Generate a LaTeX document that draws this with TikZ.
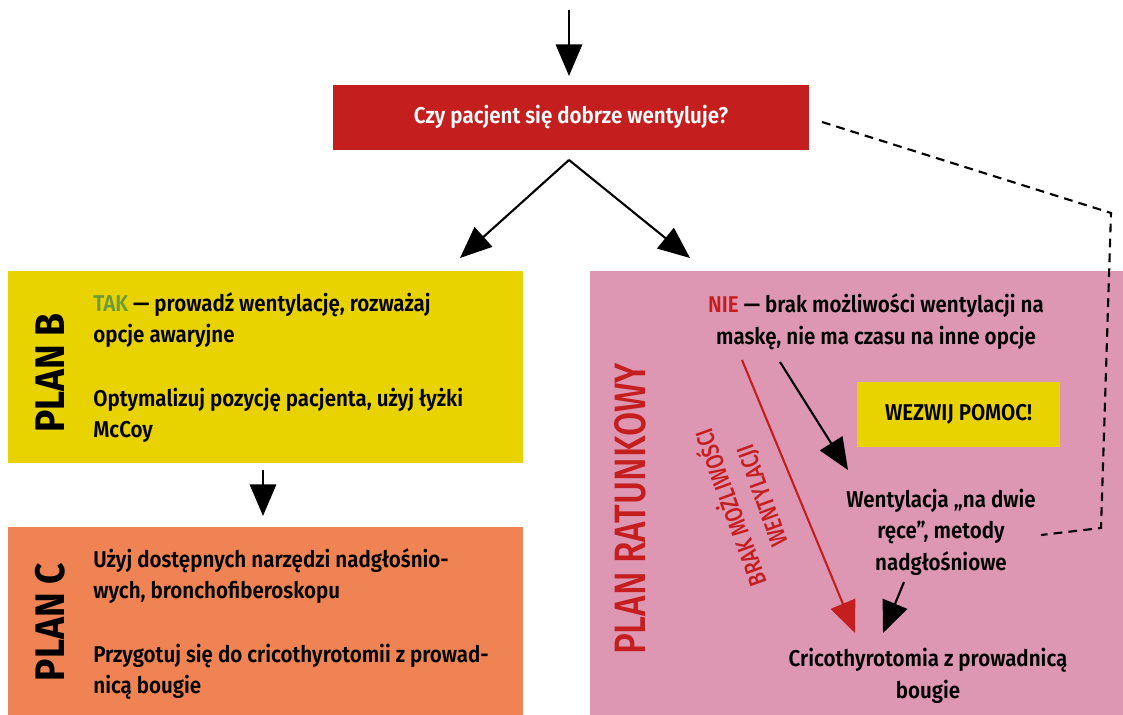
\documentclass[tikz,border=0pt]{standalone}
\usepackage{fontspec}
\setmainfont{Fira Sans}[FakeStretch=0.9, UprightFont=* SemiBold, BoldFont=* Bold]
\newfontfamily\lightsans{Fira Sans}[FakeStretch=0.8, UprightFont=* Medium]
\usetikzlibrary{arrows.meta}
\definecolor{alarmred}{HTML}{C41E1E}
\definecolor{planyellow}{HTML}{E8D300}
\definecolor{planorange}{HTML}{F08353}
\definecolor{planpink}{HTML}{DE97B2}
\definecolor{takgreen}{HTML}{6A9A3A}

\begin{document}
\begin{tikzpicture}
      [x=0.02cm, y=-0.02cm,
       panel/.style={
           rectangle,
           inner sep=0pt,
           draw=none
         },
       body/.style={
           inner sep=0pt,
           align=left,
           font=\fontsize{13}{18}\selectfont
         },
       plantitle/.style={
           rotate=90,
           inner sep=0pt,
           font=\bfseries\fontsize{23.5}{26}\selectfont
         },
       arr/.style={
           draw=black, line width=1.2pt,
           -{Triangle[length=18pt,width=15pt]}
         },
       ]
    \useasboundingbox (0,0) rectangle (1123,715);

    % panels
    \node [panel, fill=alarmred, minimum width=9.52cm, minimum height=1.3cm,
           text=white, font=\fontsize{13}{18}\selectfont] (q) at (571,117.5)
          {Czy pacjent się dobrze wentyluje?};
    \node [panel, fill=planyellow, minimum width=10.3cm, minimum height=3.84cm] (planB) at (265.5,367) {};
    \node [panel, fill=planorange, minimum width=10.3cm, minimum height=3.76cm] (planC) at (265.5,621) {};
    \node [panel, fill=planpink, minimum width=10.66cm, minimum height=8.88cm] (rescue) at (856.5,493) {};
    \node [panel, fill=planyellow, minimum width=4.06cm, minimum height=1.3cm,
           font=\fontsize{13}{18}\selectfont] (help) at (958.5,414.5) {WEZWIJ POMOC!};

    % plan B / C
    \node [plantitle] (titleB) at (50,373) {PLAN B};
    \node [body, anchor=north west] (tak) at (93,292) {
      \textcolor{takgreen}{TAK} — prowadź wentylację, rozważaj\\
      opcje awaryjne\\[18pt]
      Optymalizuj pozycję pacjenta, użyj łyżki\\
      McCoy
    };
    \node [plantitle] (titleC) at (50,622) {PLAN C};
    \node [body, anchor=north west] (tools) at (93,548) {
      Użyj dostępnych narzędzi nadgłośnio-\\
      wych, bronchofiberoskopu\\[18pt]
      Przygotuj się do cricothyrotomii z prowad-\\
      nicą bougie
    };

    % plan ratunkowy
    \node [rotate=90, inner sep=0pt, text=alarmred,
           font=\lightsans\fontsize{25}{28}\selectfont] (titleR) at (630,509) {PLAN RATUNKOWY};
    \node [body, align=center] (nie) at (876,322) {
      \textcolor{alarmred}{NIE} — brak możliwości wentylacji na\\
      maskę, nie ma czasu na inne opcje
    };
    \node [body, align=center] (vent) at (941,532) {
      Wentylacja „na dwie\\
      ręce”, metody\\
      nadgłośniowe
    };
    \node [body, align=center] (crico) at (928,676) {
      Cricothyrotomia z prowadnicą\\
      bougie
    };
    \node [rotate=110, inner sep=0pt, align=center, text=alarmred,
           font=\lightsans\fontsize{14}{19}\selectfont] (noVent) at (746,502) {
      BRAK MOŻLIWOŚCI\\
      WENTYLACJI
    };

    % connectors
    \coordinate (entry) at (569,10);
    \coordinate (entryEnd) at (569,76);
    \coordinate (fork) at (569,160);
    \coordinate (toB) at (460,258);
    \coordinate (toR) at (690,258);
    \coordinate (BtoC) at (263,470);
    \coordinate (BtoCEnd) at (263,516);
    \coordinate (nieOut) at (780,362);
    \coordinate (ventIn) at (848,470);
    \coordinate (redOut) at (742,360);
    \coordinate (redIn) at (855,633);
    \coordinate (ventOut) at (904,582);
    \coordinate (cricoIn) at (883,633);
    \coordinate (d1) at (822,122);
    \coordinate (d2) at (1111,213);
    \coordinate (d3) at (1101,528);
    \coordinate (d4) at (1041,535);

    \draw [arr] (entry) -- (entryEnd);
    \draw [arr] (fork) -- (toB);
    \draw [arr] (fork) -- (toR);
    \draw [arr] (BtoC) -- (BtoCEnd);
    \draw [arr] (nieOut) -- (ventIn);
    \draw [arr, draw=alarmred, fill=alarmred] (redOut) -- (redIn);
    \draw [arr] (ventOut) -- (cricoIn);
    \draw [line width=1.2pt, dash pattern=on 5pt off 3.5pt] (d1) -- (d2) -- (d3) -- (d4);

  \end{tikzpicture}
\end{document}
